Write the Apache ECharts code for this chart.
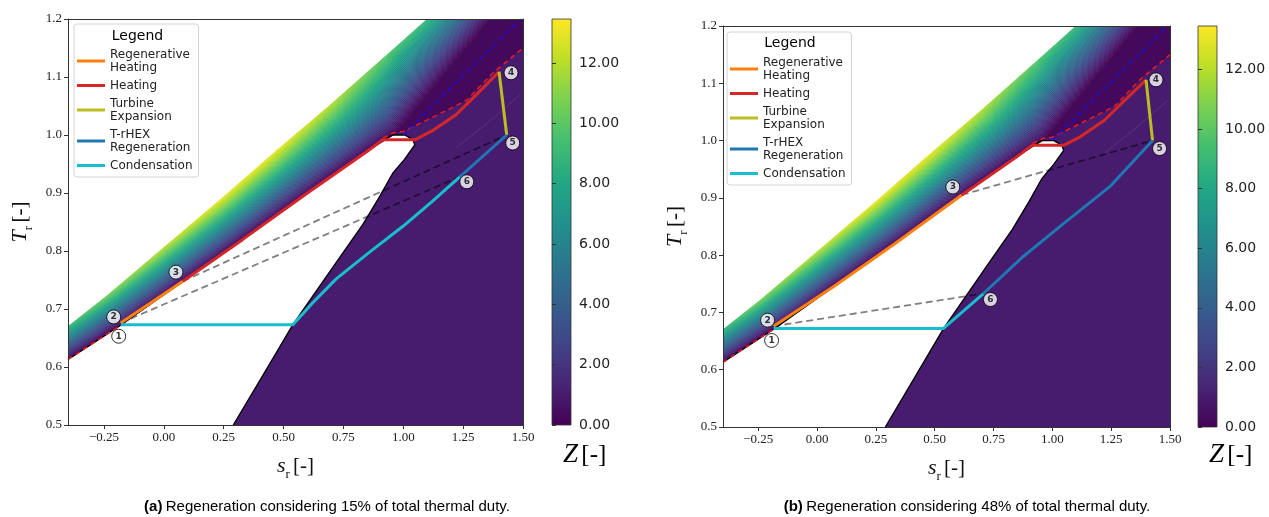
<!DOCTYPE html>
<html>
<head>
<meta charset="utf-8">
<script src="https://cdn.jsdelivr.net/npm/echarts@6/dist/echarts.min.js"></script>
<style>
  html, body { margin: 0; padding: 0; background: #ffffff; }
  #chart { width: 1269px; height: 517px; }
</style>
</head>
<body>
<div id="chart"></div>
<script>
// ---- axis ranges and ticks ----
const S_MIN = -0.4, S_MAX = 1.5, T_MIN = 0.5, T_MAX = 1.2;
const sTicks = [-0.25, 0, 0.25, 0.5, 0.75, 1.0, 1.25, 1.5];
const TTicks = [0.5, 0.6, 0.7, 0.8, 0.9, 1.0, 1.1, 1.2];
const zTicks = [0, 2, 4, 6, 8, 10, 12];
const Z_MAX = 13.46;

// ---- saturation dome (reduced entropy / reduced temperature) ----
const liquidS = [-0.40, -0.18, 0.08, 0.33, 0.60, 0.85, 0.915, 0.956, 1.006];
const liquidT = [0.613, 0.672, 0.748, 0.820, 0.900, 0.972, 0.990, 1.000, 1.000];
const vaporS = [1.006, 1.040, 1.048, 1.005, 0.956, 0.900, 0.830, 0.740, 0.640, 0.539, 0.420, 0.290];
const vaporT = [1.000, 0.992, 0.983, 0.958, 0.934, 0.893, 0.845, 0.792, 0.733, 0.673, 0.590, 0.500];

// ---- compressed-liquid / supercritical band of the Z field ----
// lower edge (Z ~ 0), upper edge of the computed domain, and Z on that upper edge
const bandLowS = [-0.40, -0.18, 0.08, 0.33, 0.60, 0.85, 0.96, 1.16, 1.36];
const bandLowT = [0.613, 0.672, 0.748, 0.820, 0.900, 0.972, 1.000, 1.100, 1.200];
const bandUpS = [-0.40, -0.24, 0.00, 0.24, 0.47, 0.69, 0.86, 0.97, 1.10];
const bandUpT = [0.670, 0.722, 0.806, 0.890, 0.973, 1.050, 1.112, 1.152, 1.200];
const bandUpZ = [9.0, 10.5, 12.0, 13.0, 13.0, 12.0, 10.5, 9.5, 9.0];
const vaporZoneZ = 1.0;   // Z level in the superheated vapour zone
const nearCritZ = 0.3;    // Z level above the critical point

// ---- reference isobars / lines ----
const isobarHiS = [0.915, 0.96, 1.0, 1.12, 1.265, 1.374, 1.5];
const isobarHiT = [0.995, 1.004, 1.006, 1.03, 1.06, 1.107, 1.15];
const isobarLoS = [-0.40, -0.18];
const isobarLoT = [0.613, 0.672];
const critLineS = [1.0, 1.49];
const critLineT = [1.0, 1.2];
const contourS = [1.22, 1.35, 1.49];
const contourT = [0.978, 1.02, 1.07];

// ---- cycle (a): 15 % regeneration ----
const aRegenS = [-0.18, 0.08];
const aRegenT = [0.676, 0.748];
const aHeatS = [0.08, 0.33, 0.60, 0.85, 0.915, 1.05, 1.12, 1.22, 1.307, 1.40];
const aHeatT = [0.748, 0.82, 0.90, 0.972, 0.992, 0.992, 1.007, 1.035, 1.07, 1.109];
const aTurbS = [1.40, 1.432];
const aTurbT = [1.109, 1.0];
const aRhexS = [1.432, 1.236];
const aRhexT = [1.0, 0.928];
const aCondS = [1.236, 1.12, 1.0, 0.85, 0.72, 0.62, 0.539, -0.18];
const aCondT = [0.928, 0.885, 0.843, 0.795, 0.752, 0.71, 0.673, 0.673];
const aStateS = [-0.18, -0.18, 0.08, 1.40, 1.432, 1.236];
const aStateT = [0.672, 0.676, 0.748, 1.109, 1.0, 0.928];
const aLinks = [[1, 5], [2, 4]];

// ---- cycle (b): 48 % regeneration ----
const bRegenS = [-0.185, 0.08, 0.33, 0.615];
const bRegenT = [0.676, 0.748, 0.82, 0.905];
const bHeatS = [0.615, 0.85, 0.915, 1.05, 1.12, 1.22, 1.307, 1.398];
const bHeatT = [0.905, 0.972, 0.992, 0.992, 1.007, 1.035, 1.07, 1.106];
const bTurbS = [1.398, 1.426];
const bTurbT = [1.106, 1.0];
const bRhexS = [1.426, 1.244, 1.05, 0.88, 0.707];
const bRhexT = [1.0, 0.9195, 0.856, 0.799, 0.733];
const bCondS = [0.707, 0.537, -0.185];
const bCondT = [0.733, 0.672, 0.672];
const bStateS = [-0.185, -0.185, 0.615, 1.398, 1.426, 0.707];
const bStateT = [0.672, 0.676, 0.905, 1.106, 1.0, 0.733];
const bLinks = [[1, 5], [2, 4]];

const processNames = ['Regenerative Heating', 'Heating', 'Turbine Expansion', 'T-rHEX Regeneration', 'Condensation'];
const legendLabels = ['Regenerative\nHeating', 'Heating', 'Turbine\nExpansion', 'T-rHEX\nRegeneration', 'Condensation'];
const processColors = ['#ff7f0e', '#d62728', '#bcbd22', '#1f77b4', '#17becf'];

// marker label offsets (pixels) for the numbered state points
const aMarkerOffsets = [[-2, 11], [-7, -6], [-7, -9], [12, 1], [6, 8], [7, 5]];
const bMarkerOffsets = [[-2, 12], [-6, -6], [-9, -8], [10, 0], [7, 8], [7, 6]];

// ---- viridis colour map ----
const VIRIDIS = ['#440154', '#482475', '#414487', '#355f8d', '#2a788e', '#21918c',
                 '#22a884', '#44bf70', '#7ad151', '#bddf26', '#fde725'];
const VIR_RGB = VIRIDIS.map(h => [parseInt(h.slice(1, 3), 16), parseInt(h.slice(3, 5), 16), parseInt(h.slice(5, 7), 16)]);
function viridis(t) {
  t = Math.max(0, Math.min(1, t));
  const x = t * (VIR_RGB.length - 1);
  const i = Math.min(Math.floor(x), VIR_RGB.length - 2);
  const f = x - i;
  const a = VIR_RGB[i], b = VIR_RGB[i + 1];
  return 'rgb(' + [0, 1, 2].map(k => Math.round(a[k] + (b[k] - a[k]) * f)).join(',') + ')';
}

const zip = (xs, ys) => xs.map((x, i) => [x, ys[i]]);
const lerp2 = (p, q, f) => [p[0] + (q[0] - p[0]) * f, p[1] + (q[1] - p[1]) * f];
const fmtS = v => (v < 0 ? '\u2212' : '') + Math.abs(v).toFixed(2);
const fmtT = v => v.toFixed(1);

// ---- shapes built from the arrays ----
const vaporZone = [[S_MAX, T_MIN], [S_MAX, T_MAX]]
  .concat(zip(bandLowS, bandLowT).slice(6).reverse())
  .concat(zip(vaporS, vaporT));
const nearCritZone = zip(bandLowS, bandLowT).slice(6)
  .concat([[S_MAX, T_MAX]])
  .concat(zip(isobarHiS, isobarHiT).reverse());
const domeLine = zip(liquidS, liquidT).concat(zip(vaporS, vaporT));
const bandQuads = bandLowS.slice(0, -1).map((_, i) => [
  bandLowS[i], bandLowT[i], bandUpS[i], bandUpT[i], bandUpZ[i],
  bandLowS[i + 1], bandLowT[i + 1], bandUpS[i + 1], bandUpT[i + 1], bandUpZ[i + 1]
]);

const STRIPS = 40;
function renderBand(params, api) {
  const L0 = api.coord([api.value(0), api.value(1)]);
  const U0 = api.coord([api.value(2), api.value(3)]);
  const z0 = api.value(4);
  const L1 = api.coord([api.value(5), api.value(6)]);
  const U1 = api.coord([api.value(7), api.value(8)]);
  const z1 = api.value(9);
  const children = [];
  for (let j = 0; j < STRIPS; j++) {
    const f0 = j / STRIPS, f1 = (j + 1) / STRIPS, fm = (j + 0.5) / STRIPS;
    const m0 = lerp2(L0, U0, fm), m1 = lerp2(L1, U1, fm);
    const grad = {
      type: 'linear', x: m0[0], y: m0[1], x2: m1[0], y2: m1[1], global: true,
      colorStops: [{ offset: 0, color: viridis(fm * z0 / Z_MAX) }, { offset: 1, color: viridis(fm * z1 / Z_MAX) }]
    };
    children.push({
      type: 'polygon',
      shape: { points: [lerp2(L0, U0, f0), lerp2(L0, U0, f1), lerp2(L1, U1, f1), lerp2(L1, U1, f0)] },
      style: { fill: grad, stroke: grad, lineWidth: 0.6 }
    });
  }
  return { type: 'group', children };
}

function polygonSeries(points, fill, xi, yi, z) {
  return {
    type: 'custom', xAxisIndex: xi, yAxisIndex: yi, data: points, clip: true, silent: true, z,
    encode: { x: 0, y: 1 },
    renderItem: (params, api) => {
      if (params.dataIndex !== 0) return;
      return { type: 'polygon', shape: { points: points.map(p => api.coord(p)) }, style: { fill } };
    }
  };
}

function lineSeries(name, data, color, width, type, xi, yi, z) {
  return {
    type: 'line', name, data, xAxisIndex: xi, yAxisIndex: yi, z,
    color, showSymbol: false, symbol: 'none', silent: true, clip: true, animation: false,
    lineStyle: { color, width, type }
  };
}

function panelSeries(p, idx) {
  const xi = idx * 2, yi = idx * 2;
  const s = [];
  s.push(polygonSeries(vaporZone, viridis(vaporZoneZ / Z_MAX), xi, yi, 1));
  s.push(polygonSeries(nearCritZone, viridis(nearCritZ / Z_MAX), xi, yi, 1));
  s.push({
    type: 'custom', xAxisIndex: xi, yAxisIndex: yi, data: bandQuads, clip: true, silent: true, z: 2,
    encode: { x: [0, 2, 5, 7], y: [1, 3, 6, 8] }, renderItem: renderBand
  });
  s.push(lineSeries('', zip(contourS, contourT), 'rgba(255,255,255,0.13)', 0.8, 'solid', xi, yi, 3));
  s.push(lineSeries('', domeLine, '#000000', 1.3, 'solid', xi, yi, 4));
  s.push(lineSeries('', zip(isobarLoS, isobarLoT), '#f01818', 1.5, [5, 4], xi, yi, 5));
  s.push(lineSeries('', zip(isobarHiS, isobarHiT), '#f01818', 1.5, [5, 4], xi, yi, 5));
  s.push(lineSeries('', zip(critLineS, critLineT), '#1010f0', 1.3, [5, 4], xi, yi, 5));
  p.links.forEach(([i, j]) => {
    s.push(lineSeries('', [[p.stateS[i], p.stateT[i]], [p.stateS[j], p.stateT[j]]],
      'rgba(0,0,0,0.5)', 1.8, [7, 4], xi, yi, 5));
  });
  const paths = [p.regen, p.heat, p.turb, p.rhex, p.cond];
  paths.forEach((path, k) => {
    s.push(lineSeries(processNames[k], path, processColors[k], 3, 'solid', xi, yi, 6 + (k >= 3 ? 1 : 0)));
  });
  s.push({
    type: 'scatter', xAxisIndex: xi, yAxisIndex: yi, z: 10, silent: true, animation: false,
    data: zip(p.stateS, p.stateT).map((v, k) => ({ value: v, symbolOffset: p.offsets[k] })),
    symbol: 'circle', symbolSize: 14,
    itemStyle: { color: '#ffffff', borderColor: '#000000', borderWidth: 1 },
    label: {
      show: true, position: 'inside', formatter: prm => String(prm.dataIndex + 1),
      fontFamily: 'DejaVu Sans', fontSize: 9, fontWeight: 'bold', color: '#000'
    }
  });
  return s;
}

const panelA = {
  regen: zip(aRegenS, aRegenT), heat: zip(aHeatS, aHeatT), turb: zip(aTurbS, aTurbT),
  rhex: zip(aRhexS, aRhexT), cond: zip(aCondS, aCondT),
  stateS: aStateS, stateT: aStateT, links: aLinks, offsets: aMarkerOffsets
};
const panelB = {
  regen: zip(bRegenS, bRegenT), heat: zip(bHeatS, bHeatT), turb: zip(bTurbS, bTurbT),
  rhex: zip(bRhexS, bRhexT), cond: zip(bCondS, bCondT),
  stateS: bStateS, stateT: bStateT, links: bLinks, offsets: bMarkerOffsets
};

// ---- layout ----
const grids = [
  { left: 68, top: 19, width: 455, height: 406 },
  { left: 723, top: 26, width: 447, height: 401 },
  { left: 552, top: 19, width: 19, height: 406 },
  { left: 1198, top: 26, width: 19, height: 401 }
];

const AX = '#333333';
const serifRich = {
  i: { fontFamily: 'Liberation Serif', fontStyle: 'italic', fontSize: 22, color: '#111', verticalAlign: 'bottom', padding: [0, 0, 4, 0] },
  sub: { fontFamily: 'Liberation Serif', fontSize: 13, color: '#111', verticalAlign: 'bottom' },
  n: { fontFamily: 'Liberation Serif', fontSize: 21, color: '#111', verticalAlign: 'bottom', padding: [0, 0, 4, 0] }
};

function xAxesFor(gi) {
  return [{
    type: 'value', gridIndex: gi, min: S_MIN, max: S_MAX, position: 'bottom', z: 10,
    axisLine: { show: true, onZero: false, lineStyle: { color: AX, width: 1 } },
    axisTick: { show: true, length: 4, customValues: sTicks, lineStyle: { color: AX } },
    axisLabel: { customValues: sTicks, formatter: fmtS, fontFamily: 'Liberation Serif', fontSize: 13, color: '#222', margin: 6 },
    splitLine: { show: false },
    name: '{i|s}{sub|r} {n|[-]}', nameLocation: 'middle', nameGap: 30,
    nameTextStyle: { rich: serifRich }
  }, {
    type: 'value', gridIndex: gi, min: S_MIN, max: S_MAX, position: 'top', z: 10,
    axisLine: { show: true, onZero: false, lineStyle: { color: AX, width: 1 } },
    axisTick: { show: false }, axisLabel: { show: false }, splitLine: { show: false }
  }];
}
function yAxesFor(gi) {
  return [{
    type: 'value', gridIndex: gi, min: T_MIN, max: T_MAX, position: 'left', z: 10,
    axisLine: { show: true, onZero: false, lineStyle: { color: AX, width: 1 } },
    axisTick: { show: true, length: 4, customValues: TTicks, lineStyle: { color: AX } },
    axisLabel: { customValues: TTicks, formatter: fmtT, fontFamily: 'Liberation Serif', fontSize: 13, color: '#222', margin: 6 },
    splitLine: { show: false },
    name: '{i|T}{sub|r} {n|[-]}', nameLocation: 'middle', nameGap: 33, nameRotate: 90,
    nameTextStyle: { rich: serifRich }
  }, {
    type: 'value', gridIndex: gi, min: T_MIN, max: T_MAX, position: 'right', z: 10,
    axisLine: { show: true, onZero: false, lineStyle: { color: AX, width: 1 } },
    axisTick: { show: false }, axisLabel: { show: false }, splitLine: { show: false }
  }];
}
function cbXAxis(gi) {
  return { type: 'value', gridIndex: gi, min: 0, max: 1, show: false };
}
function cbYAxis(gi) {
  return {
    type: 'value', gridIndex: gi, min: 0, max: Z_MAX, position: 'right', z: 10,
    axisLine: { show: false },
    axisTick: { show: true, length: 4, customValues: zTicks, lineStyle: { color: AX } },
    axisLabel: { customValues: zTicks, formatter: v => v.toFixed(2), fontFamily: 'DejaVu Sans', fontSize: 14, color: '#222', margin: 8 },
    splitLine: { show: false }
  };
}
function colorbarSeries(xi, yi) {
  return {
    type: 'custom', xAxisIndex: xi, yAxisIndex: yi, data: [[0, 0, 1, Z_MAX]], silent: true, z: 2,
    encode: { x: [0, 2], y: [1, 3] },
    renderItem: (params, api) => {
      const p0 = api.coord([api.value(0), api.value(1)]);
      const p1 = api.coord([api.value(2), api.value(3)]);
      return {
        type: 'rect',
        shape: { x: p0[0], y: p1[1], width: p1[0] - p0[0], height: p0[1] - p1[1] },
        style: {
          fill: { type: 'linear', x: 0, y: 1, x2: 0, y2: 0, colorStops: VIRIDIS.map((c, k) => ({ offset: k / (VIRIDIS.length - 1), color: c })) },
          stroke: AX, lineWidth: 0.8
        }
      };
    }
  };
}

function legendFor(left, top) {
  return {
    data: processNames, orient: 'vertical', left, top, icon: 'rect', z: 20,
    itemWidth: 28, itemHeight: 3, itemGap: 5, selectedMode: false,
    formatter: name => legendLabels[processNames.indexOf(name)],
    textStyle: { fontFamily: 'DejaVu Sans', fontSize: 12, lineHeight: 13, color: '#222' },
    backgroundColor: 'rgba(255,255,255,0.9)', borderColor: '#d4d4d4', borderWidth: 1, borderRadius: 3,
    padding: [24, 6, 5, 3]
  };
}

function label(x, y, rich, text, align) {
  return { type: 'text', x, y, z: 100, silent: true, style: { text, rich, align: align || 'left', verticalAlign: 'middle' } };
}
const zRich = {
  z: { fontFamily: 'Liberation Serif', fontStyle: 'italic', fontSize: 27, color: '#111' },
  n: { fontFamily: 'Liberation Serif', fontSize: 25, color: '#111' }
};
const capRich = {
  b: { fontFamily: 'Liberation Sans', fontWeight: 'bold', fontSize: 15, color: '#111' },
  t: { fontFamily: 'Liberation Sans', fontSize: 15, color: '#111' }
};
const titleRich = { t: { fontFamily: 'DejaVu Sans', fontSize: 14, color: '#222' } };

const option = {
  animation: false,
  backgroundColor: '#ffffff',
  grid: grids,
  xAxis: [...xAxesFor(0), ...xAxesFor(1), cbXAxis(2), cbXAxis(3)],
  yAxis: [...yAxesFor(0), ...yAxesFor(1), cbYAxis(2), cbYAxis(3)],
  legend: [legendFor(74, 24), legendFor(727, 32)],
  series: [
    ...panelSeries(panelA, 0),
    ...panelSeries(panelB, 1),
    colorbarSeries(4, 4),
    colorbarSeries(5, 5)
  ],
  graphic: [
    label(137.5, 36, titleRich, '{t|Legend}', 'center'),
    label(790, 43, titleRich, '{t|Legend}', 'center'),
    label(563, 455, zRich, '{z|Z} {n|[-]}'),
    label(1209, 455, zRich, '{z|Z} {n|[-]}'),
    label(327, 507, capRich, '{b|(a)} {t|Regeneration considering 15% of total thermal duty.}', 'center'),
    label(967, 507, capRich, '{b|(b)} {t|Regeneration considering 48% of total thermal duty.}', 'center')
  ]
};

const chart = echarts.init(document.getElementById('chart'), null, { renderer: 'canvas' });
chart.setOption(option);
</script>
</body>
</html>
